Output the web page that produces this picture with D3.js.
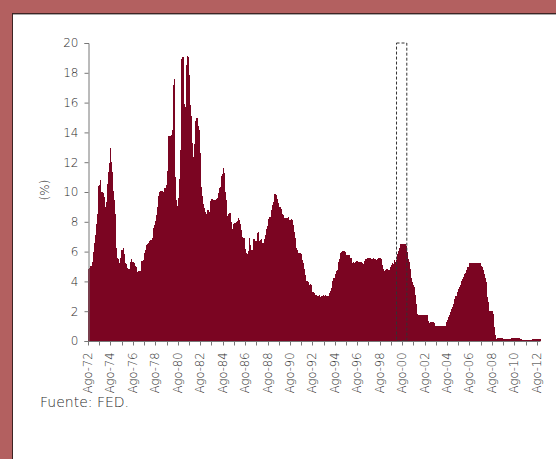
<!DOCTYPE html>
<html>
<head>
<meta charset="utf-8">
<script src="https://cdn.jsdelivr.net/npm/d3@7"></script>
<style>
  body { margin: 0; background: #b36060; }
  svg { display: block; }
  text { font-family: "DejaVu Sans", sans-serif; font-weight: 200; fill: #2a2a2a; }
</style>
</head>
<body>
<script>
//federal funds rate, monthly, Aug 1972 to Nov 2012 (%)
var startYear = 1972, startMonth = 7;
var rates = [
  4.80, 4.87, 5.04, 5.06, 5.33,                                          //1972
  5.94, 6.58, 7.09, 7.12, 7.84, 8.49, 10.40, 10.50, 10.78, 10.01, 10.03, 9.95, //1973
  9.65, 8.97, 9.35, 10.51, 11.31, 11.93, 12.92, 12.01, 11.34, 10.06, 9.45, 8.53, //1974
  7.13, 6.24, 5.54, 5.49, 5.22, 5.55, 6.10, 6.14, 6.24, 5.82, 5.22, 5.20,   //1975
  4.87, 4.77, 4.84, 4.82, 5.29, 5.48, 5.31, 5.29, 5.25, 5.03, 4.95, 4.65,   //1976
  4.61, 4.68, 4.69, 4.73, 5.35, 5.39, 5.42, 5.90, 6.14, 6.47, 6.51, 6.56,   //1977
  6.70, 6.78, 6.79, 6.89, 7.36, 7.60, 7.81, 8.04, 8.45, 8.96, 9.76, 10.03,  //1978
  10.07, 10.06, 10.09, 10.01, 10.24, 10.29, 10.47, 10.94, 11.43, 13.77, 13.18, 13.78, //1979
  13.82, 14.13, 17.19, 17.61, 10.98, 9.47, 9.03, 9.61, 10.87, 12.81, 15.85, 18.90,   //1980
  19.08, 15.93, 14.70, 15.72, 18.52, 19.10, 19.04, 17.82, 15.87, 15.08, 13.31, 12.37, //1981
  13.22, 14.78, 14.68, 14.94, 14.45, 14.15, 12.59, 10.12, 10.31, 9.71, 9.20, 8.95,   //1982
  8.68, 8.51, 8.77, 8.80, 8.63, 8.98, 9.37, 9.56, 9.45, 9.48, 9.34, 9.47,   //1983
  9.56, 9.59, 9.91, 10.29, 10.32, 11.06, 11.23, 11.64, 11.30, 9.99, 9.43, 8.38, //1984
  8.35, 8.50, 8.58, 8.27, 7.97, 7.53, 7.88, 7.90, 7.92, 7.99, 8.05, 8.27,   //1985
  8.14, 7.86, 7.48, 6.99, 6.85, 6.92, 6.56, 6.17, 5.89, 5.85, 6.04, 6.91,   //1986
  6.43, 6.10, 6.13, 6.37, 6.85, 6.73, 6.58, 6.73, 7.22, 7.29, 6.69, 6.77,   //1987
  6.83, 6.58, 6.58, 6.87, 7.09, 7.51, 7.75, 8.01, 8.19, 8.30, 8.35, 8.76,   //1988
  9.12, 9.36, 9.85, 9.84, 9.81, 9.53, 9.24, 8.99, 9.02, 8.84, 8.55, 8.45,   //1989
  8.23, 8.24, 8.28, 8.26, 8.18, 8.29, 8.15, 8.13, 8.20, 8.11, 7.81, 7.31,   //1990
  6.91, 6.25, 6.12, 5.91, 5.78, 5.90, 5.82, 5.66, 5.45, 5.21, 4.81, 4.43,   //1991
  4.03, 4.06, 3.98, 3.73, 3.82, 3.76, 3.25, 3.30, 3.22, 3.10, 3.09, 2.92,   //1992
  3.02, 3.03, 3.07, 2.96, 3.00, 3.04, 3.06, 3.03, 3.09, 2.99, 3.02, 2.96,   //1993
  3.05, 3.25, 3.34, 3.56, 4.01, 4.25, 4.26, 4.47, 4.73, 4.76, 5.29, 5.45,   //1994
  5.53, 5.92, 5.98, 6.05, 6.01, 6.00, 5.85, 5.74, 5.80, 5.76, 5.80, 5.60,   //1995
  5.56, 5.22, 5.31, 5.22, 5.24, 5.27, 5.40, 5.22, 5.30, 5.24, 5.31, 5.29,   //1996
  5.25, 5.19, 5.39, 5.51, 5.50, 5.56, 5.52, 5.54, 5.54, 5.50, 5.52, 5.50,   //1997
  5.56, 5.51, 5.49, 5.45, 5.49, 5.56, 5.54, 5.55, 5.51, 5.07, 4.83, 4.68,   //1998
  4.63, 4.76, 4.81, 4.74, 4.74, 4.76, 4.99, 5.07, 5.22, 5.20, 5.42, 5.30,   //1999
  5.45, 5.73, 5.85, 6.02, 6.27, 6.53, 6.54, 6.50, 6.52, 6.51, 6.51, 6.40,   //2000
  5.98, 5.49, 5.31, 4.80, 4.21, 3.97, 3.77, 3.65, 3.07, 2.49, 2.09, 1.82,   //2001
  1.73, 1.74, 1.73, 1.75, 1.75, 1.75, 1.73, 1.74, 1.75, 1.75, 1.34, 1.24,   //2002
  1.24, 1.26, 1.25, 1.26, 1.26, 1.22, 1.01, 1.03, 1.01, 1.01, 1.00, 0.98,   //2003
  1.00, 1.01, 1.00, 1.00, 1.00, 1.03, 1.26, 1.43, 1.61, 1.76, 1.93, 2.16,   //2004
  2.28, 2.50, 2.63, 2.79, 3.00, 3.04, 3.26, 3.50, 3.62, 3.78, 4.00, 4.16,   //2005
  4.29, 4.49, 4.59, 4.79, 4.94, 4.99, 5.24, 5.25, 5.25, 5.25, 5.25, 5.24,   //2006
  5.25, 5.26, 5.26, 5.25, 5.25, 5.25, 5.26, 5.02, 4.94, 4.76, 4.49, 4.24,   //2007
  3.94, 2.98, 2.61, 2.28, 1.98, 2.00, 2.01, 2.00, 1.81, 0.97, 0.39, 0.16,   //2008
  0.15, 0.22, 0.18, 0.15, 0.18, 0.21, 0.16, 0.16, 0.15, 0.12, 0.12, 0.12,   //2009
  0.11, 0.13, 0.16, 0.20, 0.20, 0.18, 0.18, 0.19, 0.19, 0.19, 0.19, 0.18,   //2010
  0.17, 0.16, 0.14, 0.10, 0.09, 0.09, 0.07, 0.10, 0.08, 0.07, 0.08, 0.07,   //2011
  0.08, 0.10, 0.13, 0.14, 0.16, 0.16, 0.16, 0.13, 0.14, 0.16, 0.16           //2012
];
var yTicks = [0, 2, 4, 6, 8, 10, 12, 14, 16, 18, 20];
var monthAbbr = "Ago";
//highlighted window (dashed box), Feb 2000 to Dec 2000
var boxStart = [2000, 1], boxEnd = [2000, 11];

var width = 556, height = 459;
var svg = d3.select("body").append("svg")
    .attr("width", width)
    .attr("height", height);

//white panel with dark frame
svg.append("rect")
    .attr("x", 12.5).attr("y", 13.5)
    .attr("width", width).attr("height", height)
    .attr("fill", "#fff")
    .attr("stroke", "#3d2424")
    .attr("stroke-width", 1);
svg.append("line")
    .attr("x1", 13).attr("x2", width)
    .attr("y1", 14.5).attr("y2", 14.5)
    .attr("stroke", "#aaa");

var data = rates.map(function(v, i){
    var m = startMonth + i;
    return {idx: i, year: startYear + Math.floor(m / 12), month: m % 12, value: v};
});

var x = d3.scaleBand()
    .domain(data.map(function(d){ return d.idx; }))
    .range([88, 540.5])
    .padding(0);
var y = d3.scaleLinear().domain([0, 20]).range([341, 43]);
var bw = x.bandwidth();

function monthIndex(ym){ return (ym[0] - startYear) * 12 + ym[1] - startMonth; }

//bars
svg.append("g").selectAll("rect")
    .data(data)
    .enter()
    .append("rect")
    .attr("x", function(d){ return x(d.idx); })
    .attr("width", bw + 0.4)
    .attr("y", function(d){ return y(d.value); })
    .attr("height", function(d){ return y(0) - y(d.value); })
    .attr("fill", "#7b0522")
    .attr("shape-rendering", "crispEdges");

//dashed box
var b0 = x(monthIndex(boxStart)), b1 = x(monthIndex(boxEnd)) + bw;
svg.append("rect")
    .attr("x", b0).attr("y", y(20))
    .attr("width", b1 - b0).attr("height", y(0) - y(20))
    .attr("fill", "none")
    .attr("stroke", "#333")
    .attr("stroke-width", 1)
    .attr("stroke-dasharray", "3,2");

//y axis
var yAxis = svg.append("g")
    .attr("transform", "translate(88.5,0)")
    .call(d3.axisLeft(y).tickValues(yTicks).tickSize(4).tickPadding(6));
yAxis.select(".domain").attr("stroke", "#777");
yAxis.selectAll(".tick line").attr("stroke", "#777");
yAxis.selectAll("text")
    .attr("font-size", "12px")
    .attr("font-family", "'DejaVu Sans', sans-serif")
    .attr("font-weight", 200)
    .attr("fill", "#2a2a2a");

svg.append("text")
    .attr("transform", "translate(49,190) rotate(-90)")
    .attr("text-anchor", "middle")
    .attr("font-size", "12px")
    .text("(%)");

//x axis: ticks every August, labels every two years
var augusts = data.filter(function(d){ return d.month === 7; });
var xg = svg.append("g").attr("transform", "translate(0,341.5)");
xg.append("line")
    .attr("x1", 88).attr("x2", 540.5)
    .attr("stroke", "#777");
xg.selectAll(".tk")
    .data(augusts)
    .enter()
    .append("line")
    .attr("class", "tk")
    .attr("x1", function(d){ return Math.round(x(d.idx)) + 0.5; })
    .attr("x2", function(d){ return Math.round(x(d.idx)) + 0.5; })
    .attr("y1", 0).attr("y2", 4)
    .attr("stroke", "#777");
xg.selectAll(".lbl")
    .data(augusts.filter(function(d){ return (d.year - startYear) % 2 === 0; }))
    .enter()
    .append("text")
    .attr("class", "lbl")
    .attr("transform", function(d){
        return "translate(" + (x(d.idx) + 4) + ",11) rotate(-90)";
    })
    .attr("text-anchor", "end")
    .attr("font-size", "11.5px")
    .text(function(d){ return monthAbbr + "-" + String(d.year).slice(2); });

//source
svg.append("text")
    .attr("x", 40).attr("y", 407)
    .attr("font-size", "14px")
    .text("Fuente: FED.");
</script>
</body>
</html>
